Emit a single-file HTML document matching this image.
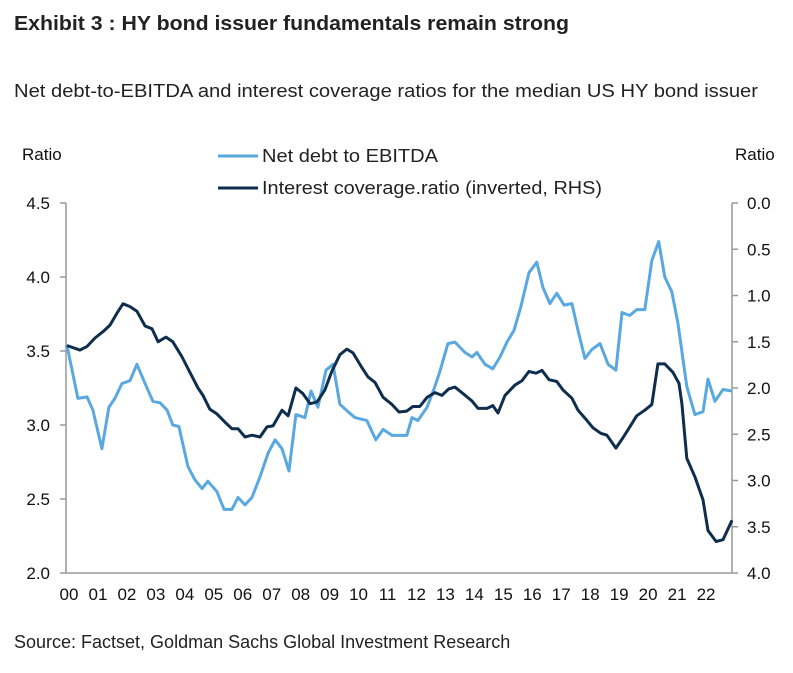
<!DOCTYPE html>
<html><head><meta charset="utf-8"><style>
body{margin:0;background:#fff;width:793px;height:668px;overflow:hidden;font-family:"Liberation Sans",sans-serif}
svg text{font-family:"Liberation Sans",sans-serif}
</style></head><body>
<svg width="793" height="668">
<text x="14" y="30" font-size="20" font-weight="bold" fill="#222" textLength="555" lengthAdjust="spacingAndGlyphs">Exhibit 3 : HY bond issuer fundamentals remain strong</text>
<text x="14" y="97" font-size="18" fill="#222" textLength="744" lengthAdjust="spacingAndGlyphs">Net debt-to-EBITDA and interest coverage ratios for the median US HY bond issuer</text>
<text x="22" y="160" font-size="17" fill="#111">Ratio</text>
<text x="735" y="160" font-size="17" fill="#111">Ratio</text>
<g>
<line x1="218" y1="156" x2="258" y2="156" stroke="#5aa8e0" stroke-width="3"/>
<text x="262" y="162" font-size="18" fill="#222" textLength="176" lengthAdjust="spacingAndGlyphs">Net debt to EBITDA</text>
<line x1="218" y1="188" x2="258" y2="188" stroke="#0f2e4d" stroke-width="3"/>
<text x="262" y="194" font-size="18" fill="#222" textLength="340" lengthAdjust="spacingAndGlyphs">Interest coverage.ratio (inverted, RHS)</text>
</g>
<g id="axes"></g>
<g id="series"></g>
<text x="14" y="648" font-size="18" fill="#222">Source: Factset, Goldman Sachs Global Investment Research</text>
</svg>
<script>
const debtDates=[0.03,0.41,0.73,0.93,1.24,1.48,1.69,1.93,2.21,2.45,2.73,3.0,3.25,3.49,3.69,3.9,4.21,4.45,4.7,4.9,5.21,5.46,5.73,5.94,6.18,6.42,6.7,6.98,7.22,7.46,7.7,7.94,8.25,8.46,8.7,8.98,9.22,9.46,9.74,9.98,10.39,10.7,10.95,11.26,11.53,11.77,11.95,12.15,12.47,12.74,12.91,13.19,13.43,13.78,14.02,14.19,14.47,14.74,14.99,15.23,15.47,15.71,15.99,16.26,16.47,16.71,16.95,17.2,17.47,17.68,17.92,18.16,18.44,18.72,18.99,19.2,19.47,19.71,19.99,20.23,20.47,20.68,20.92,21.13,21.44,21.72,22.0,22.17,22.41,22.69,23.0];
const debtValues=[3.54,3.18,3.19,3.1,2.84,3.12,3.18,3.28,3.3,3.41,3.28,3.16,3.15,3.1,3.0,2.99,2.72,2.63,2.57,2.62,2.55,2.43,2.43,2.51,2.46,2.51,2.65,2.81,2.9,2.84,2.69,3.07,3.05,3.23,3.12,3.37,3.41,3.14,3.09,3.05,3.03,2.9,2.97,2.93,2.93,2.93,3.05,3.03,3.12,3.26,3.36,3.55,3.56,3.49,3.46,3.49,3.41,3.38,3.46,3.56,3.64,3.8,4.03,4.1,3.93,3.82,3.89,3.81,3.82,3.64,3.45,3.51,3.55,3.41,3.37,3.76,3.74,3.78,3.78,4.11,4.24,4.0,3.9,3.69,3.26,3.07,3.09,3.31,3.16,3.24,3.23];
const covDates=[0.03,0.48,0.73,1.0,1.28,1.52,1.76,1.97,2.21,2.45,2.73,2.97,3.18,3.45,3.69,4.0,4.28,4.56,4.73,4.97,5.21,5.49,5.73,5.94,6.18,6.42,6.7,6.94,7.15,7.46,7.67,7.94,8.18,8.43,8.67,8.94,9.18,9.46,9.7,9.91,10.22,10.43,10.67,10.95,11.26,11.5,11.77,11.98,12.22,12.47,12.74,12.98,13.22,13.43,13.71,14.02,14.23,14.54,14.74,14.92,15.16,15.5,15.75,15.99,16.23,16.44,16.68,16.95,17.16,17.47,17.68,17.99,18.2,18.47,18.68,18.99,19.23,19.47,19.71,19.99,20.23,20.44,20.68,20.96,21.17,21.27,21.44,21.72,22.0,22.17,22.45,22.69,23.0];
const covValues=[1.54,1.59,1.55,1.46,1.39,1.32,1.19,1.09,1.12,1.17,1.33,1.36,1.5,1.45,1.5,1.66,1.83,2.0,2.08,2.23,2.28,2.37,2.44,2.44,2.53,2.51,2.53,2.42,2.41,2.24,2.3,2.0,2.06,2.17,2.15,2.02,1.82,1.64,1.58,1.62,1.78,1.88,1.94,2.1,2.18,2.26,2.25,2.2,2.2,2.1,2.05,2.08,2.01,1.99,2.06,2.14,2.22,2.22,2.19,2.27,2.08,1.97,1.92,1.82,1.84,1.81,1.91,1.93,2.02,2.11,2.24,2.35,2.43,2.49,2.51,2.65,2.54,2.42,2.3,2.24,2.18,1.74,1.74,1.83,1.95,2.17,2.76,2.96,3.21,3.54,3.66,3.64,3.43];
const leftTicks=["2.0","2.5","3.0","3.5","4.0","4.5"];
const rightTicks=["0.0","0.5","1.0","1.5","2.0","2.5","3.0","3.5","4.0"];
const yearLabels=["00","01","02","03","04","05","06","07","08","09","10","11","12","13","14","15","16","17","18","19","20","21","22"];

const X0=66,X1=732,YT=203,YB=573;
const xS=t=>X0+t*(X1-X0)/23;
const yL=v=>YB-(v-2)/2.5*(YB-YT);
const yR=v=>YT+v/4*(YB-YT);
const NS="http://www.w3.org/2000/svg";
function mk(tag,attrs,parent){const e=document.createElementNS(NS,tag);for(const k in attrs)e.setAttribute(k,attrs[k]);parent.appendChild(e);return e;}
const ax=document.getElementById('axes'),sr=document.getElementById('series');
let e=mk('line',{x1:X0,y1:YT,x2:X0,y2:YB,stroke:'#999','stroke-width':1.5},ax);


e=mk('line',{x1:X1,y1:YT,x2:X1,y2:YB,stroke:'#999','stroke-width':1.5},ax);


e=mk('line',{x1:X0,y1:YB,x2:X1,y2:YB,stroke:'#999','stroke-width':1.5},ax);


leftTicks.forEach(t=>{const y=yL(+t);
 mk('line',{x1:X0-6,y1:y,x2:X0,y2:y,stroke:'#999','stroke-width':1.5},ax);
 const tx=mk('text',{x:50,y:y+6,'font-size':17,'text-anchor':'end',fill:'#111'},ax);tx.textContent=t;
 
 });
rightTicks.forEach(t=>{const y=yR(+t);
 mk('line',{x1:X1,y1:y,x2:X1+6,y2:y,stroke:'#999','stroke-width':1.5},ax);
 const tx=mk('text',{x:747,y:y+6,'font-size':17,fill:'#111'},ax);tx.textContent=t;
 
 });
yearLabels.forEach((t,i)=>{
 const tx=mk('text',{x:xS(i)+3,y:600,'font-size':17,'text-anchor':'middle',fill:'#111'},ax);tx.textContent=t;
 
 });
function line(d,v,f,col,name){
 const p=mk('polyline',{points:d.map((t,i)=>xS(t).toFixed(1)+','+f(v[i]).toFixed(1)).join(' '),fill:'none',stroke:col,'stroke-width':3,'stroke-linejoin':'round'},sr);
 
 }
line(debtDates,debtValues,yL,'#5aa8e0','net-debt-line');
line(covDates,covValues,yR,'#0f2e4d','interest-coverage-line');
</script>
</body></html>
